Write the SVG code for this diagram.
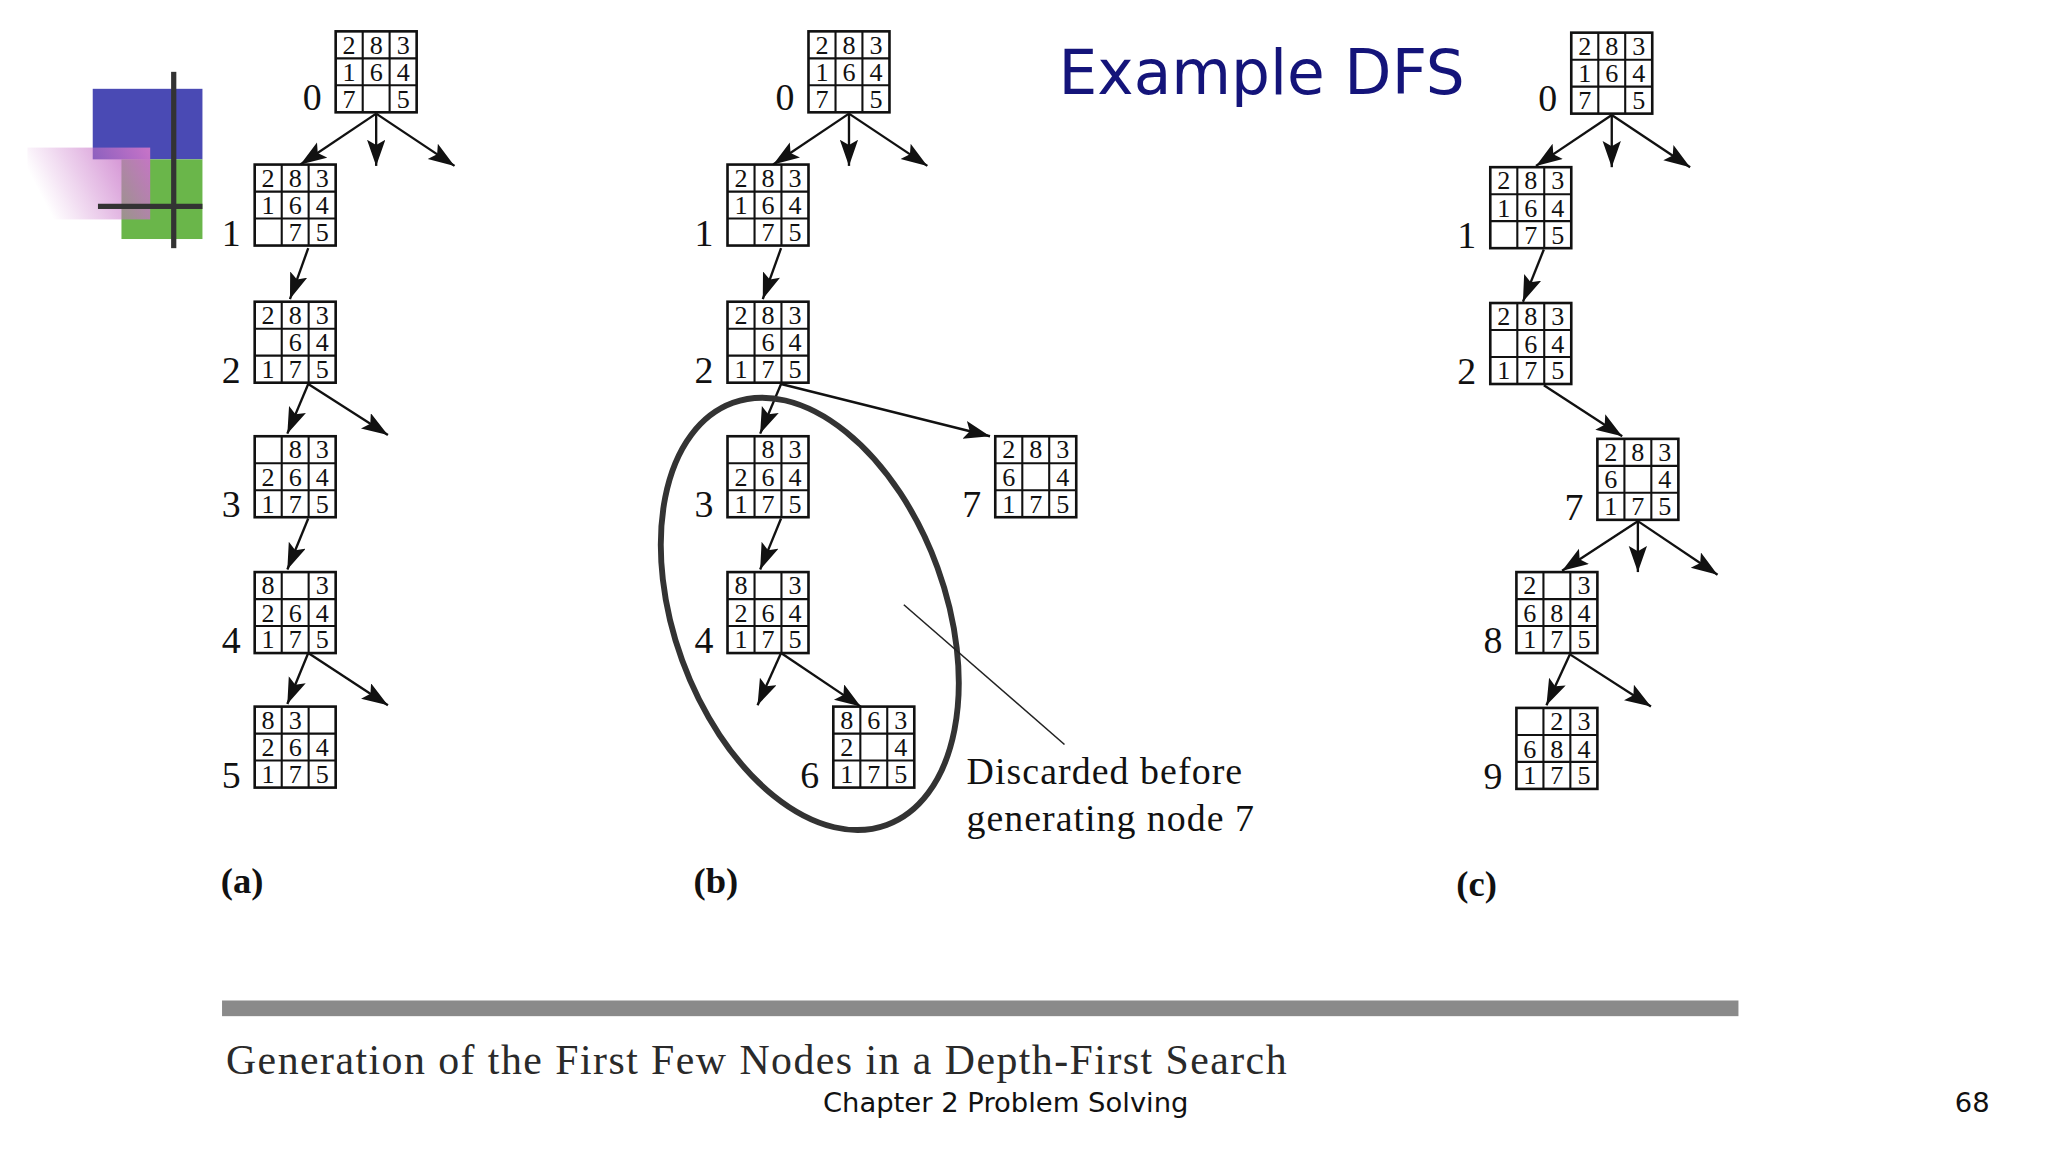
<svg xmlns="http://www.w3.org/2000/svg" xmlns:xlink="http://www.w3.org/1999/xlink" width="2048" height="1152" viewBox="0 0 2048 1152">
<defs>
<style>
.c{font-family:"Liberation Serif",serif;font-size:20px;fill:#111;text-anchor:middle}
.l{font-family:"Liberation Serif",serif;font-size:29px;fill:#111;text-anchor:middle}
.p{font-family:"Liberation Serif",serif;font-size:28px;font-weight:bold;fill:#111}
.a{stroke:#111;stroke-width:1.8;fill:none;marker-end:url(#ah)}
</style>
<marker id="ah" markerUnits="userSpaceOnUse" markerWidth="22" markerHeight="16" refX="20" refY="7" orient="auto">
<path d="M0,0 L20,7 L0,14 L4,7 z" fill="#111"/>
</marker>
<g id="grid" fill="none" stroke="#111">
<rect x="0" y="0" width="62" height="62" stroke-width="2"/>
<path d="M20.7,0V62M41.3,0V62M0,20.7H62M0,41.3H62" stroke-width="1.6"/>
</g>
<linearGradient id="pk" x1="0" y1="0.3" x2="1" y2="0">
<stop offset="0" stop-color="#c874c8" stop-opacity="0"/>
<stop offset="1" stop-color="#c874c8"/>
</linearGradient>
</defs>
<rect width="2048" height="1152" fill="#fff"/>
<g transform="scale(1.30612)">
<g id="logo">
<rect x="71" y="68" width="84" height="54" fill="#4a4ab4"/>
<rect x="93" y="122" width="62" height="61" fill="#6ab64a"/>
<rect x="21" y="113" width="94" height="55" fill="url(#pk)"/>
<rect x="131" y="55" width="4" height="135" fill="#333"/>
<rect x="75" y="156" width="80" height="4" fill="#333"/>
</g>
<text x="966" y="72" font-family="DejaVu Sans,sans-serif" font-size="47" fill="#14147a" text-anchor="middle">Example DFS</text>

<g id="connectors">
<path class="a" d="M288,87L230,126"/><path class="a" d="M288,87V127"/><path class="a" d="M288,87L348,127"/>
<path class="a" d="M236,190L222,229"/>
<path class="a" d="M236,294L220,332"/><path class="a" d="M236,294L297,333"/>
<path class="a" d="M236,397L220,436"/>
<path class="a" d="M236,500L220,539"/><path class="a" d="M236,500L297,540"/>

<path class="a" d="M650,87L592,126"/><path class="a" d="M650,87V127"/><path class="a" d="M650,87L710,127"/>
<path class="a" d="M598,190L584,229"/>
<path class="a" d="M598,294L582,332"/><path class="a" d="M598,294L758,334"/>
<path class="a" d="M598,397L582,436"/>
<path class="a" d="M598,500L580,540"/><path class="a" d="M598,500L659,541"/>

<path class="a" d="M1234,88L1176,127"/><path class="a" d="M1234,88V128"/><path class="a" d="M1234,88L1294,128"/>
<path class="a" d="M1182,191L1166,231"/>
<path class="a" d="M1182,295L1242,334"/>
<path class="a" d="M1254,399L1196,437"/><path class="a" d="M1254,399V438"/><path class="a" d="M1254,399L1315,440"/>
<path class="a" d="M1202,501L1184,540"/><path class="a" d="M1202,501L1264,541"/>
</g>

<!-- panel a -->
<g id="a0" transform="translate(257,24)"><use xlink:href="#grid"/><text class="c" x="10.3" y="17">2</text><text class="c" x="31" y="17">8</text><text class="c" x="51.7" y="17">3</text><text class="c" x="10.3" y="38">1</text><text class="c" x="31" y="38">6</text><text class="c" x="51.7" y="38">4</text><text class="c" x="10.3" y="58.5">7</text><text class="c" x="51.7" y="58.5">5</text><text class="l" x="-18" y="60">0</text></g>
<g id="a1" transform="translate(195,126)"><use xlink:href="#grid"/><text class="c" x="10.3" y="17">2</text><text class="c" x="31" y="17">8</text><text class="c" x="51.7" y="17">3</text><text class="c" x="10.3" y="38">1</text><text class="c" x="31" y="38">6</text><text class="c" x="51.7" y="38">4</text><text class="c" x="31" y="58.5">7</text><text class="c" x="51.7" y="58.5">5</text><text class="l" x="-18" y="62">1</text></g>
<g id="a2" transform="translate(195,231)"><use xlink:href="#grid"/><text class="c" x="10.3" y="17">2</text><text class="c" x="31" y="17">8</text><text class="c" x="51.7" y="17">3</text><text class="c" x="31" y="38">6</text><text class="c" x="51.7" y="38">4</text><text class="c" x="10.3" y="58.5">1</text><text class="c" x="31" y="58.5">7</text><text class="c" x="51.7" y="58.5">5</text><text class="l" x="-18" y="62">2</text></g>
<g id="a3" transform="translate(195,334)"><use xlink:href="#grid"/><text class="c" x="31" y="17">8</text><text class="c" x="51.7" y="17">3</text><text class="c" x="10.3" y="38">2</text><text class="c" x="31" y="38">6</text><text class="c" x="51.7" y="38">4</text><text class="c" x="10.3" y="58.5">1</text><text class="c" x="31" y="58.5">7</text><text class="c" x="51.7" y="58.5">5</text><text class="l" x="-18" y="62">3</text></g>
<g id="a4" transform="translate(195,438)"><use xlink:href="#grid"/><text class="c" x="10.3" y="17">8</text><text class="c" x="51.7" y="17">3</text><text class="c" x="10.3" y="38">2</text><text class="c" x="31" y="38">6</text><text class="c" x="51.7" y="38">4</text><text class="c" x="10.3" y="58.5">1</text><text class="c" x="31" y="58.5">7</text><text class="c" x="51.7" y="58.5">5</text><text class="l" x="-18" y="62">4</text></g>
<g id="a5" transform="translate(195,541)"><use xlink:href="#grid"/><text class="c" x="10.3" y="17">8</text><text class="c" x="31" y="17">3</text><text class="c" x="10.3" y="38">2</text><text class="c" x="31" y="38">6</text><text class="c" x="51.7" y="38">4</text><text class="c" x="10.3" y="58.5">1</text><text class="c" x="31" y="58.5">7</text><text class="c" x="51.7" y="58.5">5</text><text class="l" x="-18" y="62">5</text></g>
<text class="p" x="169" y="684">(a)</text>

<!-- panel b -->
<g id="b0" transform="translate(619,24)"><use xlink:href="#grid"/><text class="c" x="10.3" y="17">2</text><text class="c" x="31" y="17">8</text><text class="c" x="51.7" y="17">3</text><text class="c" x="10.3" y="38">1</text><text class="c" x="31" y="38">6</text><text class="c" x="51.7" y="38">4</text><text class="c" x="10.3" y="58.5">7</text><text class="c" x="51.7" y="58.5">5</text><text class="l" x="-18" y="60">0</text></g>
<g id="b1" transform="translate(557,126)"><use xlink:href="#grid"/><text class="c" x="10.3" y="17">2</text><text class="c" x="31" y="17">8</text><text class="c" x="51.7" y="17">3</text><text class="c" x="10.3" y="38">1</text><text class="c" x="31" y="38">6</text><text class="c" x="51.7" y="38">4</text><text class="c" x="31" y="58.5">7</text><text class="c" x="51.7" y="58.5">5</text><text class="l" x="-18" y="62">1</text></g>
<g id="b2" transform="translate(557,231)"><use xlink:href="#grid"/><text class="c" x="10.3" y="17">2</text><text class="c" x="31" y="17">8</text><text class="c" x="51.7" y="17">3</text><text class="c" x="31" y="38">6</text><text class="c" x="51.7" y="38">4</text><text class="c" x="10.3" y="58.5">1</text><text class="c" x="31" y="58.5">7</text><text class="c" x="51.7" y="58.5">5</text><text class="l" x="-18" y="62">2</text></g>
<g id="b3" transform="translate(557,334)"><use xlink:href="#grid"/><text class="c" x="31" y="17">8</text><text class="c" x="51.7" y="17">3</text><text class="c" x="10.3" y="38">2</text><text class="c" x="31" y="38">6</text><text class="c" x="51.7" y="38">4</text><text class="c" x="10.3" y="58.5">1</text><text class="c" x="31" y="58.5">7</text><text class="c" x="51.7" y="58.5">5</text><text class="l" x="-18" y="62">3</text></g>
<g id="b4" transform="translate(557,438)"><use xlink:href="#grid"/><text class="c" x="10.3" y="17">8</text><text class="c" x="51.7" y="17">3</text><text class="c" x="10.3" y="38">2</text><text class="c" x="31" y="38">6</text><text class="c" x="51.7" y="38">4</text><text class="c" x="10.3" y="58.5">1</text><text class="c" x="31" y="58.5">7</text><text class="c" x="51.7" y="58.5">5</text><text class="l" x="-18" y="62">4</text></g>
<g id="b6" transform="translate(638,541)"><use xlink:href="#grid"/><text class="c" x="10.3" y="17">8</text><text class="c" x="31" y="17">6</text><text class="c" x="51.7" y="17">3</text><text class="c" x="10.3" y="38">2</text><text class="c" x="51.7" y="38">4</text><text class="c" x="10.3" y="58.5">1</text><text class="c" x="31" y="58.5">7</text><text class="c" x="51.7" y="58.5">5</text><text class="l" x="-18" y="62">6</text></g>
<g id="b7" transform="translate(762,334)"><use xlink:href="#grid"/><text class="c" x="10.3" y="17">2</text><text class="c" x="31" y="17">8</text><text class="c" x="51.7" y="17">3</text><text class="c" x="10.3" y="38">6</text><text class="c" x="51.7" y="38">4</text><text class="c" x="10.3" y="58.5">1</text><text class="c" x="31" y="58.5">7</text><text class="c" x="51.7" y="58.5">5</text><text class="l" x="-18" y="62">7</text></g>
<g id="discard">
<ellipse cx="620" cy="470" rx="104" ry="172" transform="rotate(-20 620 470)" fill="none" stroke="#333" stroke-width="4.5"/>
<line x1="692" y1="463" x2="815" y2="570" stroke="#222" stroke-width="1.2"/>
<text x="740" y="600" font-family="Liberation Serif,serif" font-size="29" fill="#111" textLength="211">Discarded before</text>
<text x="740" y="636" font-family="Liberation Serif,serif" font-size="29" fill="#111" textLength="220">generating node 7</text>
</g>
<text class="p" x="531" y="684">(b)</text>

<!-- panel c -->
<g id="c0" transform="translate(1203,25)"><use xlink:href="#grid"/><text class="c" x="10.3" y="17">2</text><text class="c" x="31" y="17">8</text><text class="c" x="51.7" y="17">3</text><text class="c" x="10.3" y="38">1</text><text class="c" x="31" y="38">6</text><text class="c" x="51.7" y="38">4</text><text class="c" x="10.3" y="58.5">7</text><text class="c" x="51.7" y="58.5">5</text><text class="l" x="-18" y="60">0</text></g>
<g id="c1" transform="translate(1141,128)"><use xlink:href="#grid"/><text class="c" x="10.3" y="17">2</text><text class="c" x="31" y="17">8</text><text class="c" x="51.7" y="17">3</text><text class="c" x="10.3" y="38">1</text><text class="c" x="31" y="38">6</text><text class="c" x="51.7" y="38">4</text><text class="c" x="31" y="58.5">7</text><text class="c" x="51.7" y="58.5">5</text><text class="l" x="-18" y="62">1</text></g>
<g id="c2" transform="translate(1141,232)"><use xlink:href="#grid"/><text class="c" x="10.3" y="17">2</text><text class="c" x="31" y="17">8</text><text class="c" x="51.7" y="17">3</text><text class="c" x="31" y="38">6</text><text class="c" x="51.7" y="38">4</text><text class="c" x="10.3" y="58.5">1</text><text class="c" x="31" y="58.5">7</text><text class="c" x="51.7" y="58.5">5</text><text class="l" x="-18" y="62">2</text></g>
<g id="c7" transform="translate(1223,336)"><use xlink:href="#grid"/><text class="c" x="10.3" y="17">2</text><text class="c" x="31" y="17">8</text><text class="c" x="51.7" y="17">3</text><text class="c" x="10.3" y="38">6</text><text class="c" x="51.7" y="38">4</text><text class="c" x="10.3" y="58.5">1</text><text class="c" x="31" y="58.5">7</text><text class="c" x="51.7" y="58.5">5</text><text class="l" x="-18" y="62">7</text></g>
<g id="c8" transform="translate(1161,438)"><use xlink:href="#grid"/><text class="c" x="10.3" y="17">2</text><text class="c" x="51.7" y="17">3</text><text class="c" x="10.3" y="38">6</text><text class="c" x="31" y="38">8</text><text class="c" x="51.7" y="38">4</text><text class="c" x="10.3" y="58.5">1</text><text class="c" x="31" y="58.5">7</text><text class="c" x="51.7" y="58.5">5</text><text class="l" x="-18" y="62">8</text></g>
<g id="c9" transform="translate(1161,542)"><use xlink:href="#grid"/><text class="c" x="31" y="17">2</text><text class="c" x="51.7" y="17">3</text><text class="c" x="10.3" y="38">6</text><text class="c" x="31" y="38">8</text><text class="c" x="51.7" y="38">4</text><text class="c" x="10.3" y="58.5">1</text><text class="c" x="31" y="58.5">7</text><text class="c" x="51.7" y="58.5">5</text><text class="l" x="-18" y="62">9</text></g>
<text class="p" x="1115" y="686">(c)</text>

<rect x="170" y="766" width="1161" height="12" fill="#8a8a8a"/>
<text x="173" y="822" font-family="Liberation Serif,serif" font-size="32" fill="#2a2a2a" textLength="812">Generation of the First Few Nodes in a Depth-First Search</text>
<text x="770" y="851" font-family="DejaVu Sans,sans-serif" font-size="21" fill="#111" text-anchor="middle">Chapter 2 Problem Solving</text>
<text x="1510" y="851" font-family="DejaVu Sans,sans-serif" font-size="21" fill="#111" text-anchor="middle">68</text>
</g>
</svg>
